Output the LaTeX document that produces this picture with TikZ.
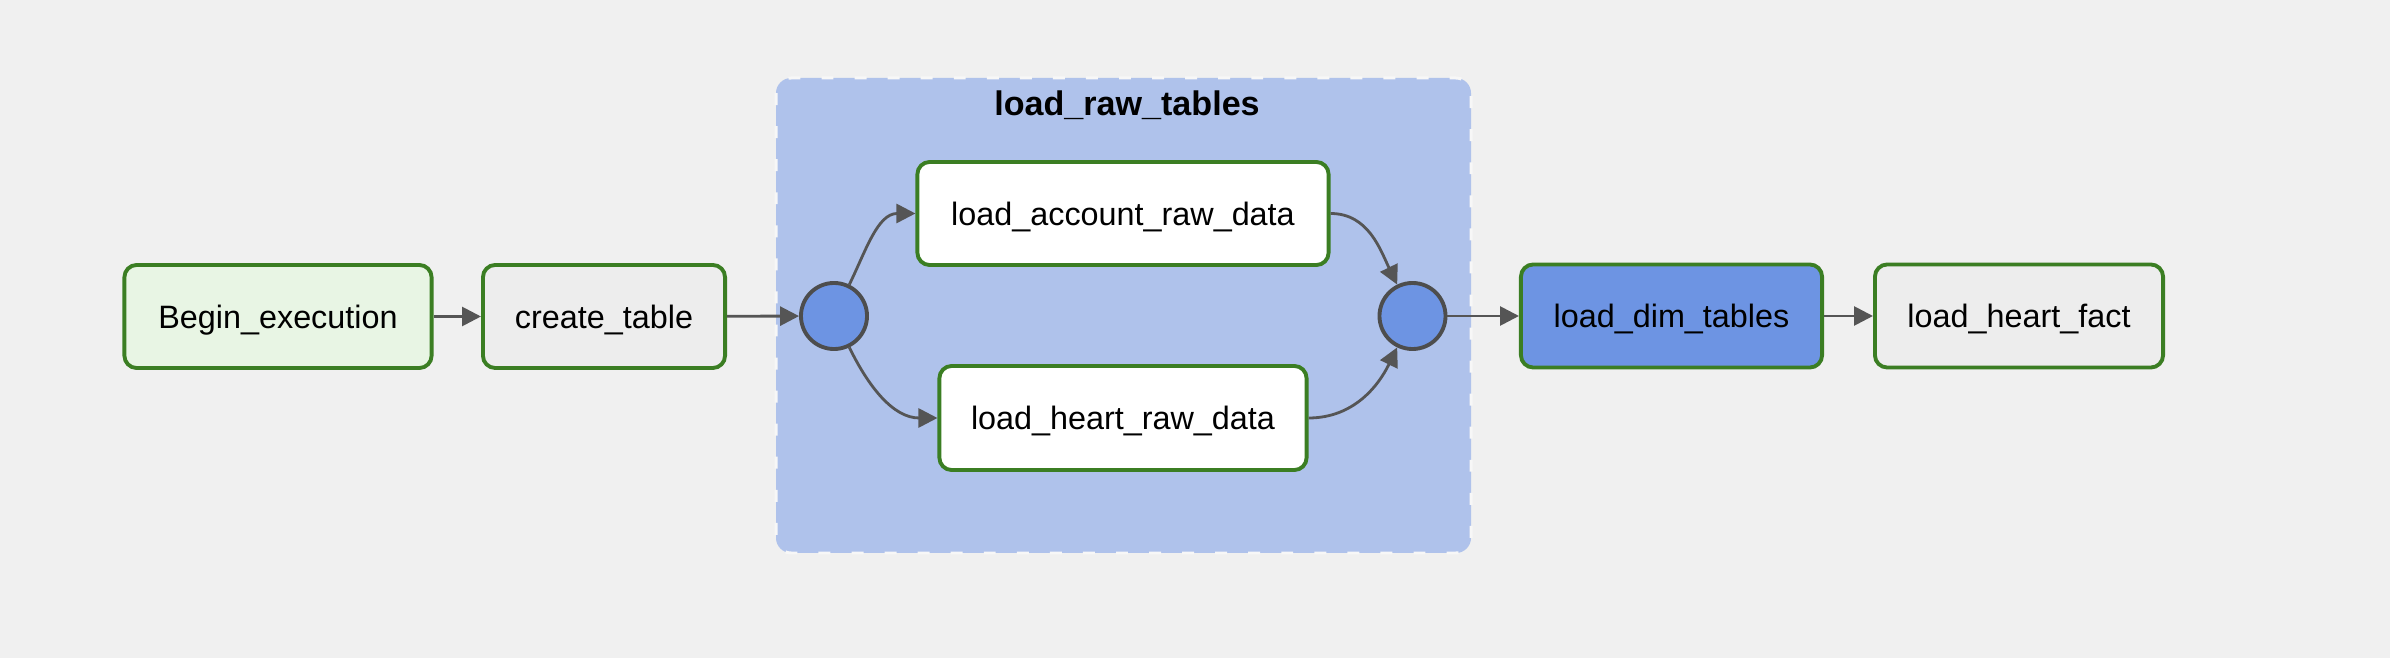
\documentclass[tikz,border=0pt]{standalone}
\usepackage{fontspec}
\setmainfont{Liberation Sans}
\usetikzlibrary{arrows.meta}
\definecolor{PageGrey}{HTML}{F0F0F0}
\definecolor{GroupBlue}{HTML}{AFC2EB}
\definecolor{TaskGreen}{HTML}{3B7E23}
\definecolor{StartGreen}{HTML}{E8F5E4}
\definecolor{IdleGrey}{HTML}{EDEDED}
\definecolor{JoinBlue}{HTML}{6D94E3}
\definecolor{JoinGrey}{HTML}{4D4D4D}
\definecolor{FlowGrey}{HTML}{555555}
\begin{document}
\begin{tikzpicture}[x=0.01cm,y=-0.01cm,
	task/.style={draw=TaskGreen,line width=1.1pt,rounded corners=3.5pt,
		minimum height=1.03cm,inner sep=0pt,text depth=0pt,
		font=\fontsize{9.2}{11}\selectfont},
	joinpoint/.style={circle,draw=JoinGrey,fill=JoinBlue,line width=1.1pt,
		minimum size=0.66cm,inner sep=0pt},
	flow/.style={draw=FlowGrey,line width=0.8pt,-{Triangle[length=5.4pt,width=5.4pt]}}]
%% Page
\fill[PageGrey] (0,0) rectangle (2390,658);
\useasboundingbox (0,0) rectangle (2390,658);
%% Task group
\draw[fill=GroupBlue,draw=white!97!black,line width=0.85pt,
	dash pattern=on 3.4pt off 6pt,rounded corners=4.3pt] (776,78) rectangle (1471,553);
\node[font=\fontsize{9.7}{11}\selectfont\bfseries] (grouptitle) at (1127,105) {load\_raw\_tables};
%% Tasks
\node[task,fill=StartGreen,minimum width=3.07cm] (begin) at (278,316.5) {Begin\_execution};
\node[task,fill=IdleGrey,minimum width=2.42cm] (create) at (604,316.5) {create\_table};
\node[joinpoint] (joinin) at (834,316) {};
\node[task,fill=white,minimum width=4.11cm] (account) at (1123,213.5) {load\_account\_raw\_data};
\node[task,fill=white,minimum width=3.67cm,minimum height=1.04cm] (heart) at (1123,418) {load\_heart\_raw\_data};
\node[joinpoint] (joinout) at (1412.5,316) {};
\node[task,fill=JoinBlue,minimum width=3.01cm] (dim) at (1671.5,316) {load\_dim\_tables};
\node[task,fill=IdleGrey,minimum width=2.88cm] (fact) at (2019,316) {load\_heart\_fact};
%% Flow
\draw[flow] (begin) -- (create);
\draw[flow] (create) -- (joinin);
\draw[flow] (joinin) to[out=64,in=180] (account);
\draw[flow] (joinin) to[out=-64,in=180] (heart);
\draw[flow] (account.east) to[out=0,in=116] (joinout);
\draw[flow] (heart.east) to[out=0,in=-116] (joinout);
\draw[flow] (joinout) -- (dim);
\draw[flow] (dim) -- (fact);
\end{tikzpicture}
\end{document}
